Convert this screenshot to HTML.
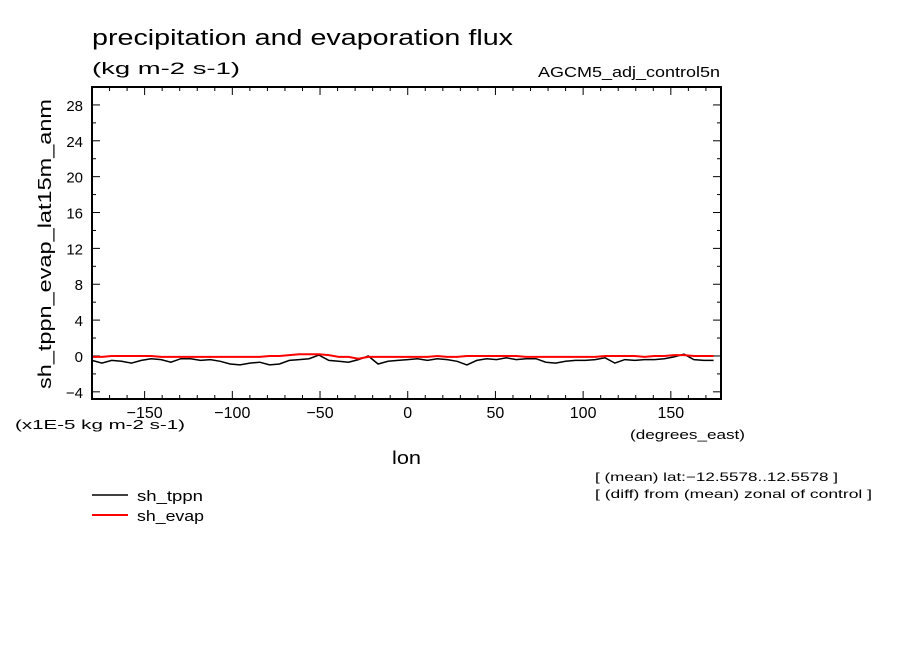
<!DOCTYPE html>
<html><head><meta charset="utf-8"><style>
html,body{margin:0;padding:0;background:#fff;}
svg{display:block;font-family:"Liberation Sans",sans-serif;}
</style></head><body>
<svg id="chart" width="904" height="654" viewBox="0 0 904 654">
<text x="92" y="45" font-size="22" textLength="421" lengthAdjust="spacingAndGlyphs">precipitation and evaporation flux</text>
<text x="92" y="74" font-size="17" textLength="148" lengthAdjust="spacingAndGlyphs">(kg m-2 s-1)</text>
<text x="538" y="77" font-size="15" textLength="182" lengthAdjust="spacingAndGlyphs">AGCM5_adj_control5n</text>
<text transform="translate(51,244) rotate(-90)" text-anchor="middle" font-size="18" textLength="290" lengthAdjust="spacingAndGlyphs">sh_tppn_evap_lat15m_anm</text>
<text x="15" y="429" font-size="13" textLength="170" lengthAdjust="spacingAndGlyphs">(x1E-5 kg m-2 s-1)</text>
<text x="630" y="439" font-size="13" textLength="115" lengthAdjust="spacingAndGlyphs">(degrees_east)</text>
<text x="392" y="464" font-size="18" textLength="29" lengthAdjust="spacingAndGlyphs">lon</text>
<text x="595" y="481" font-size="12" textLength="243" lengthAdjust="spacingAndGlyphs">[ (mean) lat:−12.5578..12.5578 ]</text>
<text x="595" y="498" font-size="12" textLength="277" lengthAdjust="spacingAndGlyphs">[ (diff) from (mean) zonal of control ]</text>
<g>
<line x1="92" y1="495" x2="128" y2="495" stroke="#000" stroke-width="1.5"/>
<text x="137" y="501" font-size="15" textLength="66" lengthAdjust="spacingAndGlyphs">sh_tppn</text>
<line x1="92" y1="515" x2="128" y2="515" stroke="#f00" stroke-width="2"/>
<text x="137" y="521" font-size="15" textLength="67" lengthAdjust="spacingAndGlyphs">sh_evap</text>
</g>
<g id="plot"></g>
</svg>
<script>
const lonStart = -180, lonStep = 5.625;
const tppn = [-0.5,-0.8,-0.5,-0.6,-0.8,-0.5,-0.3,-0.4,-0.7,-0.3,-0.3,-0.5,-0.4,-0.6,-0.9,-1.0,-0.8,-0.7,-1.0,-0.9,-0.5,-0.4,-0.3,0.1,-0.5,-0.6,-0.7,-0.4,0.0,-0.9,-0.6,-0.5,-0.4,-0.3,-0.5,-0.3,-0.4,-0.6,-1.0,-0.5,-0.3,-0.4,-0.2,-0.4,-0.3,-0.3,-0.7,-0.8,-0.6,-0.5,-0.5,-0.4,-0.2,-0.8,-0.4,-0.5,-0.4,-0.4,-0.3,-0.1,0.2,-0.4,-0.5,-0.5];
const evap = [-0.1,-0.1,0.0,0.0,0.0,0.0,0.0,-0.1,-0.1,-0.1,-0.1,-0.1,-0.1,-0.1,-0.1,-0.1,-0.1,-0.1,0.0,0.0,0.1,0.2,0.2,0.2,0.1,-0.1,-0.1,-0.3,-0.1,-0.1,-0.1,-0.1,-0.1,-0.1,-0.1,0.0,-0.1,-0.1,0.0,0.0,0.0,0.0,0.0,0.0,-0.1,-0.1,-0.1,-0.1,-0.1,-0.1,-0.1,-0.1,0.0,0.0,0.0,0.0,-0.1,0.0,0.0,0.1,0.1,0.0,0.0,0.0];
const xTicks = [-150,-100,-50,0,50,100,150];
const xTickLabels = ["−150","−100","−50","0","50","100","150"];
const yTicks = [-4,0,4,8,12,16,20,24,28];
const yTickLabels = ["−4","0","4","8","12","16","20","24","28"];
const L=92,R=721,T=87,B=399, xmin=-180, xmax=178.6, ymin=-4.8, ymax=30;
const X=v=>L+(v-xmin)/(xmax-xmin)*(R-L);
const Y=v=>B-(v-ymin)/(ymax-ymin)*(B-T);
const NS="http://www.w3.org/2000/svg", g=document.getElementById('plot');
function mk(t,a){const e=document.createElementNS(NS,t);for(const k in a)e.setAttribute(k,a[k]);g.appendChild(e);return e;}
for(let v=-170;v<=170;v+=10){const major=v%50===0,len=major?8:4;
 let e=mk('line',{x1:X(v),x2:X(v),y1:B,y2:B-len,stroke:'#000'});
 
 
 e=mk('line',{x1:X(v),x2:X(v),y1:T,y2:T+len,stroke:'#000'});
 
 }
for(let v=-4;v<=30;v+=2){const major=v%4===0,len=major?8:4;
 let e=mk('line',{x1:L,x2:L+len,y1:Y(v),y2:Y(v),stroke:'#000'});
 
 
 e=mk('line',{x1:R,x2:R-len,y1:Y(v),y2:Y(v),stroke:'#000'});
 
 }
xTicks.forEach((v,i)=>{const e=mk('text',{x:X(v),y:418,'font-size':16,'text-anchor':'middle'});e.textContent=xTickLabels[i];
 
 });
yTicks.forEach((v,i)=>{const e=mk('text',{x:83,y:Y(v)+6,'font-size':15,'text-anchor':'end'});e.textContent=yTickLabels[i];
 
 });
function series(arr,col,w,name){const p=arr.map((v,i)=>X(lonStart+i*lonStep).toFixed(1)+','+Y(v).toFixed(1)).join(' ');
 const e=mk('polyline',{points:p,fill:'none',stroke:col,'stroke-width':w});
 
 }
series(tppn,'#000',1.5,'line-sh-tppn');
series(evap,'#f00',2,'line-sh-evap');
const f=mk('rect',{x:L,y:T,width:R-L,height:B-T,fill:'none',stroke:'#000','stroke-width':2});


</script>
</body></html>
